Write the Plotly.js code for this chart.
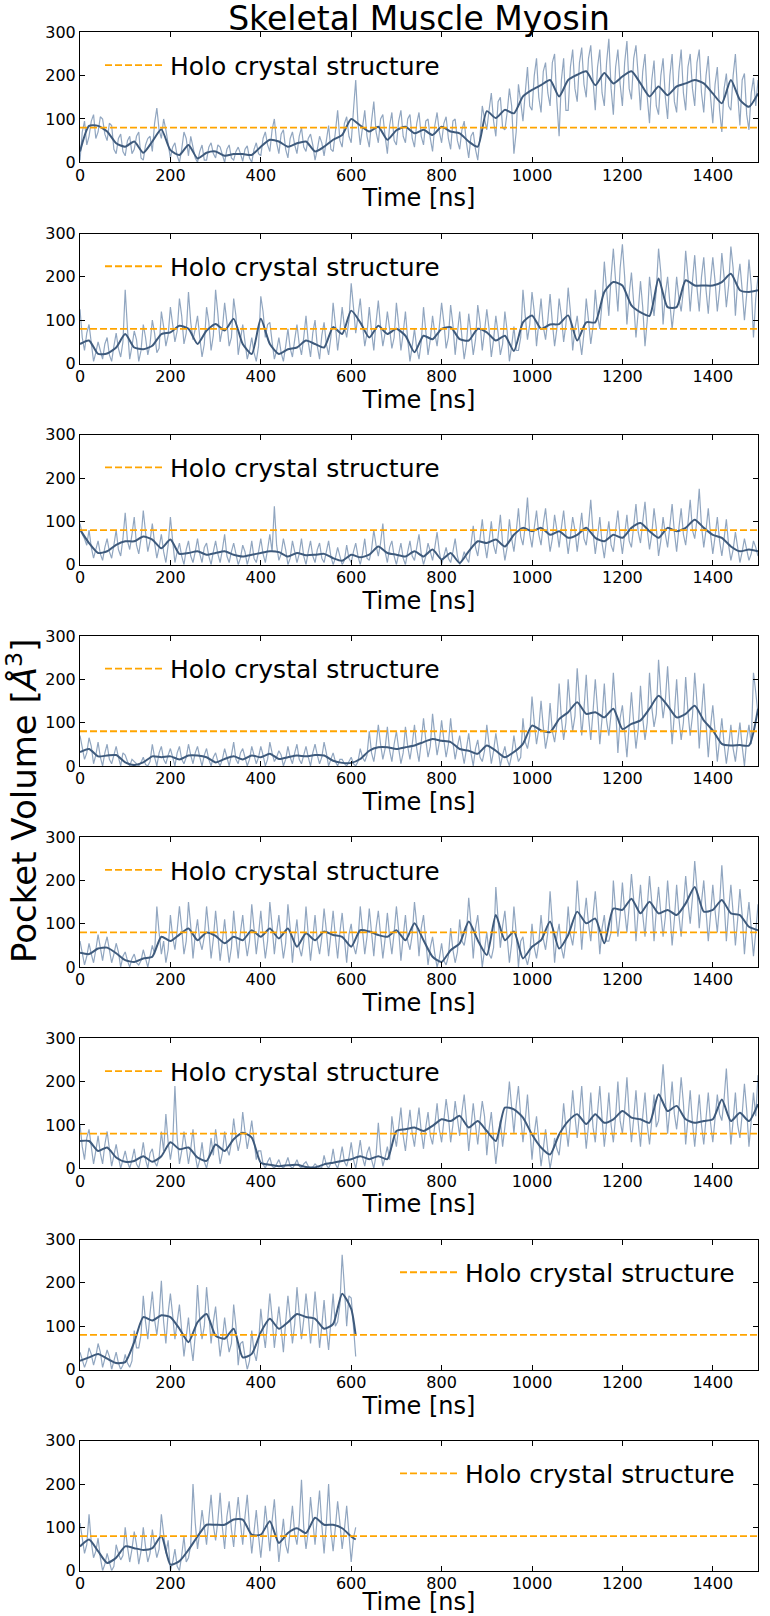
<!DOCTYPE html>
<html>
<head>
<meta charset="utf-8">
<script src="https://cdn.plot.ly/plotly-3.0.1.min.js"></script>
<style>
  body { margin: 0; background: #fff; }
  #chart { width: 770px; height: 1616px; }
</style>
</head>
<body>
<div id="chart"></div>
<script>
// pocket volume (Å^3)
// raw samples at t = 0,10,20,... and the in-between samples at t = 5,15,25,...
// running mean every 20 ns
var raw1 = [
  5, 95, 60, 110, 70, 100, 50, 85, 20, 65,
  15, 60, 30, 70, 5, 55, 25, 125, 55, 75,
  10, 45, 0, 70, 15, 35, 0, 40, 5, 45,
  10, 35, 0, 40, 5, 35, 2, 38, 0, 45,
  15, 70, 25, 100, 20, 75, 10, 70, 20, 80,
  25, 65, 5, 60, 15, 85, 25, 120, 35, 105,
  45, 190, 40, 120, 35, 140, 45, 110, 20, 115,
  40, 120, 45, 110, 35, 115, 40, 100, 25, 115,
  45, 105, 30, 100, 30, 95, 10, 70, 5, 130,
  75, 160, 60, 150, 75, 170, 20, 180, 95, 220,
  120, 240, 115, 230, 130, 250, 60, 240, 120, 260,
  140, 265, 150, 270, 120, 260, 130, 285, 110, 260,
  130, 280, 145, 270, 120, 250, 90, 235, 110, 240,
  100, 250, 115, 260, 120, 250, 130, 260, 115, 245,
  90, 220, 70, 205, 120, 250, 85, 205, 75, 195,
  190
];
var rawMid1 = [
  70, 40, 95, 55, 105, 65, 90, 30, 55, 25,
  50, 20, 60, 10, 40, 60, 90, 75, 100, 45,
  35, 15, 30, 55, 60, 10, 25, 5, 35, 20,
  40, 15, 30, 10, 25, 20, 30, 10, 30, 20,
  55, 40, 75, 45, 65, 30, 55, 40, 60, 35,
  55, 40, 30, 45, 50, 30, 70, 50, 90, 60,
  120, 90, 80, 60, 95, 70, 100, 60, 85, 50,
  95, 60, 100, 55, 90, 60, 95, 55, 85, 70,
  90, 55, 95, 50, 75, 45, 60, 30, 60, 100,
  120, 95, 140, 80, 115, 130, 70, 140, 160, 130,
  200, 150, 210, 160, 230, 140, 190, 120, 220, 170,
  230, 180, 240, 190, 220, 160, 230, 170, 220, 180,
  230, 170, 240, 200, 210, 150, 190, 130, 200, 150,
  200, 140, 210, 160, 220, 170, 230, 160, 200, 150,
  180, 120, 170, 130, 200, 160, 190, 110, 160, 130
];
var smooth1 = [
  25, 84, 84, 71, 44, 36, 48, 22, 48, 76,
  28, 17, 40, 9, 22, 25, 15, 19, 19, 17,
  36, 52, 48, 36, 44, 48, 25, 36, 52, 63,
  100, 85, 71, 82, 52, 74, 82, 67, 75, 63,
  82, 71, 67, 48, 36, 118, 102, 121, 113, 152,
  167, 178, 190, 152, 190, 202, 210, 178, 206, 182,
  198, 210, 182, 152, 175, 155, 175, 182, 190, 182,
  159, 136, 190, 144, 128,
  159
];

var raw2 = [
  125, 30, 90, 5, 50, 10, 60, 5, 70, 15,
  170, 10, 75, 5, 90, 20, 100, 25, 120, 40,
  130, 50, 150, 45, 165, 55, 110, 15, 130, 30,
  170, 50, 140, 40, 150, 20, 90, 10, 60, 5,
  155, 60, 95, 10, 60, 5, 80, 15, 90, 20,
  110, 15, 100, 10, 95, 20, 140, 30, 130, 60,
  185, 70, 150, 40, 130, 30, 145, 40, 120, 35,
  140, 30, 120, 5, 80, 10, 130, 20, 110, 40,
  140, 35, 135, 20, 120, 10, 115, 20, 135, 30,
  125, 15, 110, 20, 120, 5, 85, 30, 170, 55,
  165, 40, 150, 55, 160, 40, 150, 50, 175, 30,
  110, 20, 150, 45, 170, 80, 235, 110, 265, 120,
  275, 90, 210, 60, 190, 40, 200, 110, 265, 90,
  200, 80, 200, 120, 260, 120, 250, 120, 245, 115,
  245, 120, 255, 130, 270, 110, 230, 100, 240, 60,
  200
];
var rawMid2 = [
  60, 70, 40, 25, 30, 45, 20, 40, 35, 50,
  80, 40, 55, 30, 60, 45, 70, 35, 85, 65,
  90, 75, 110, 70, 95, 80, 60, 45, 95, 65,
  115, 80, 95, 60, 110, 55, 50, 30, 25, 40,
  120, 90, 50, 30, 25, 40, 35, 55, 45, 60,
  50, 70, 40, 65, 45, 60, 90, 75, 85, 100,
  130, 110, 90, 70, 75, 95, 85, 70, 80, 60,
  90, 70, 55, 40, 35, 50, 75, 55, 70, 85,
  95, 60, 90, 70, 60, 45, 70, 55, 95, 75,
  80, 55, 70, 45, 75, 40, 30, 60, 110, 90,
  120, 95, 85, 100, 95, 80, 110, 90, 120, 80,
  60, 70, 100, 85, 110, 140, 170, 200, 190, 220,
  200, 160, 140, 120, 130, 100, 150, 170, 210, 160,
  140, 130, 150, 170, 200, 190, 175, 200, 170, 190,
  190, 170, 200, 180, 220, 190, 170, 160, 180, 150
];
var smooth2 = [
  45, 53, 22, 23, 37, 68, 37, 33, 41, 68,
  72, 87, 80, 45, 76, 91, 76, 103, 45, 22,
  103, 45, 22, 33, 37, 53, 45, 37, 84, 68,
  122, 95, 60, 87, 68, 80, 64, 26, 64, 56,
  80, 84, 56, 53, 80, 72, 53, 64, 29, 95,
  111, 80, 90, 91, 111, 53, 95, 95, 165, 188,
  180, 134, 118, 110, 196, 130, 130, 192, 180, 180,
  180, 188, 207, 169, 165,
  169
];

var raw3 = [
  95, 60, 80, 15, 55, 10, 60, 15, 80, 20,
  120, 35, 110, 25, 125, 30, 95, 15, 70, 5,
  110, 5, 50, 0, 55, 5, 60, 5, 50, 0,
  55, 5, 70, 5, 50, 0, 45, 0, 55, 5,
  60, 5, 70, 135, 10, 60, 0, 55, 5, 60,
  0, 55, 5, 50, 5, 55, 0, 40, 0, 45,
  5, 50, 0, 60, 10, 80, 20, 95, 5, 55,
  0, 50, 0, 55, 10, 70, 0, 50, 10, 75,
  0, 40, 5, 60, 0, 30, 5, 90, 20, 105,
  15, 100, 25, 115, 10, 105, 30, 130, 45, 155,
  40, 125, 45, 130, 30, 115, 40, 125, 25, 110,
  30, 120, 45, 150, 25, 110, 15, 100, 30, 125,
  25, 115, 40, 140, 50, 145, 35, 130, 20, 110,
  40, 140, 30, 130, 45, 150, 60, 175, 40, 130,
  25, 110, 20, 105, 10, 75, 5, 60, 10, 55,
  20
];
var rawMid3 = [
  70, 45, 40, 35, 25, 40, 30, 45, 35, 60,
  55, 70, 45, 60, 75, 55, 50, 40, 30, 45,
  55, 30, 20, 35, 20, 30, 25, 40, 20, 30,
  25, 35, 20, 30, 25, 15, 30, 20, 15, 30,
  25, 35, 30, 45, 25, 35, 15, 30, 25, 20,
  30, 20, 35, 15, 30, 20, 15, 20, 10, 15,
  30, 20, 25, 15, 35, 45, 50, 30, 40, 20,
  25, 15, 30, 20, 40, 25, 20, 30, 40, 30,
  20, 15, 30, 20, 10, 15, 45, 40, 60, 50,
  55, 45, 65, 50, 40, 60, 75, 65, 90, 70,
  85, 70, 95, 75, 60, 80, 85, 70, 65, 80,
  75, 60, 90, 75, 65, 50, 60, 45, 80, 65,
  70, 55, 90, 75, 100, 80, 70, 85, 55, 70,
  90, 75, 85, 70, 95, 80, 105, 90, 80, 70,
  65, 55, 60, 45, 35, 40, 30, 35, 25, 40
];
var smooth3 = [
  81, 50, 27, 31, 46, 54, 54, 65, 58, 38,
  58, 25, 27, 31, 23, 27, 31, 23, 19, 23,
  27, 31, 29, 19, 27, 22, 23, 25, 15, 9,
  23, 17, 23, 42, 27, 23, 19, 31, 19, 35,
  12, 27, 4, 31, 54, 50, 58, 42, 69, 85,
  77, 85, 69, 77, 62, 69, 85, 62, 54, 69,
  62, 85, 96, 77, 62, 85, 77, 85, 104, 85,
  69, 62, 42, 31, 35,
  31
];

var raw4 = [
  70, 15, 65, 5, 55, 0, 50, 5, 45, 0,
  25, 0, 10, 0, 20, 0, 50, 0, 45, 5,
  40, 0, 45, 5, 50, 5, 45, 0, 40, 0,
  30, 0, 40, 0, 55, 5, 40, 0, 45, 5,
  45, 0, 55, 10, 35, 0, 45, 5, 50, 5,
  45, 0, 50, 5, 55, 0, 30, 0, 15, 0,
  20, 0, 40, 10, 80, 10, 95, 15, 90, 10,
  80, 5, 90, 15, 95, 10, 110, 20, 120, 25,
  105, 20, 110, 15, 70, 5, 75, 0, 60, 10,
  95, 5, 75, 0, 45, 0, 70, 10, 110, 40,
  160, 50, 150, 40, 145, 55, 190, 60, 200, 80,
  225, 70, 210, 60, 200, 50, 190, 70, 215, 30,
  140, 20, 170, 40, 185, 60, 215, 90, 245, 110,
  230, 50, 200, 60, 205, 70, 215, 40, 190, 20,
  140, 10, 110, 5, 95, 10, 100, 0, 95, 215,
  120
];
var rawMid4 = [
  40, 30, 45, 25, 20, 30, 15, 25, 20, 30,
  10, 15, 5, 8, 3, 10, 20, 30, 15, 25,
  20, 30, 15, 20, 25, 30, 20, 25, 15, 20,
  10, 15, 20, 25, 15, 30, 20, 15, 25, 20,
  25, 15, 30, 20, 25, 15, 20, 30, 15, 25,
  20, 30, 25, 20, 30, 15, 10, 15, 5, 10,
  5, 10, 20, 25, 30, 45, 50, 40, 35, 50,
  40, 30, 45, 50, 40, 55, 60, 45, 70, 55,
  60, 50, 55, 45, 35, 40, 30, 40, 20, 35,
  50, 35, 40, 25, 15, 25, 35, 20, 55, 70,
  100, 85, 90, 70, 80, 95, 110, 100, 130, 115,
  150, 130, 115, 125, 130, 110, 105, 120, 135, 110,
  80, 95, 100, 85, 110, 100, 135, 120, 165, 150,
  140, 120, 110, 100, 125, 115, 145, 120, 100, 90,
  80, 60, 50, 45, 40, 55, 45, 60, 50, 170
];
var smooth4 = [
  32, 39, 22, 24, 25, 8, 2, 8, 22, 20,
  22, 15, 24, 24, 20, 8, 16, 22, 15, 24,
  20, 28, 16, 20, 24, 22, 25, 24, 12, 7,
  7, 16, 35, 43, 43, 39, 43, 47, 55, 62,
  58, 55, 39, 35, 28, 47, 35, 20, 32, 51,
  93, 82, 78, 108, 124, 147, 120, 124, 112, 132,
  85, 97, 105, 132, 162, 139, 112, 120, 139, 105,
  82, 51, 47, 48, 47,
  132
];

var raw5 = [
  60, 5, 55, 10, 75, 15, 70, 10, 55, 0,
  35, 0, 30, 5, 40, 0, 50, 140, 30, 10,
  120, 40, 140, 30, 150, 20, 110, 40, 140, 20,
  130, 15, 110, 10, 130, 20, 120, 25, 145, 30,
  130, 20, 150, 30, 120, 20, 145, 10, 110, 25,
  140, 15, 120, 30, 135, 25, 130, 20, 125, 10,
  100, 30, 140, 30, 135, 25, 130, 20, 125, 30,
  140, 15, 120, 40, 150, 25, 120, 5, 70, 0,
  55, 5, 90, 10, 110, 50, 160, 20, 120, 0,
  80, 20, 185, 45, 130, 10, 140, 0, 70, 5,
  100, 20, 120, 40, 175, 10, 100, 20, 140, 50,
  200, 40, 160, 60, 175, 30, 120, 60, 200, 70,
  195, 80, 215, 60, 190, 70, 210, 60, 185, 70,
  200, 50, 190, 70, 210, 100, 245, 90, 200, 60,
  190, 80, 235, 60, 190, 50, 180, 30, 150, 25,
  145
];
var rawMid5 = [
  35, 25, 30, 40, 45, 50, 40, 30, 35, 25,
  15, 20, 10, 15, 20, 25, 30, 80, 60, 40,
  70, 85, 90, 60, 95, 75, 60, 70, 85, 65,
  75, 60, 55, 45, 70, 80, 65, 60, 90, 75,
  70, 60, 95, 80, 65, 55, 90, 70, 45, 60,
  75, 65, 60, 70, 85, 75, 70, 80, 65, 75,
  50, 60, 85, 70, 80, 90, 75, 65, 70, 80,
  85, 70, 60, 75, 100, 90, 60, 45, 30, 20,
  15, 25, 40, 35, 60, 80, 100, 90, 60, 40,
  30, 45, 110, 95, 70, 55, 80, 60, 25, 30,
  45, 55, 65, 80, 100, 70, 45, 60, 75, 95,
  130, 110, 100, 120, 110, 90, 60, 80, 130, 120,
  130, 140, 155, 130, 120, 140, 150, 130, 125, 115,
  130, 110, 120, 140, 150, 160, 180, 150, 130, 120,
  130, 145, 150, 130, 125, 110, 120, 100, 90, 80
];
var smooth5 = [
  33, 30, 43, 45, 32, 16, 12, 20, 24, 70,
  60, 75, 89, 62, 80, 72, 55, 70, 62, 85,
  70, 89, 66, 89, 47, 78, 62, 82, 74, 70,
  47, 85, 82, 74, 70, 85, 62, 101, 62, 24,
  12, 39, 55, 105, 62, 28, 120, 62, 82, 20,
  47, 62, 105, 43, 74, 128, 101, 112, 55, 135,
  132, 158, 124, 151, 124, 132, 120, 147, 185, 128,
  132, 155, 124, 120, 93,
  85
];

var raw6 = [
  100, 20, 90, 10, 75, 10, 85, 5, 55, 0,
  40, 0, 45, 0, 60, 0, 45, 5, 85, 125,
  20, 190, 10, 85, 10, 90, 0, 60, 0, 70,
  90, 10, 85, 30, 115, 40, 130, 45, 110, 20,
  40, 0, 25, 0, 20, 0, 25, 0, 20, 0,
  15, 0, 10, 0, 30, 0, 45, 0, 50, 5,
  60, 0, 65, 5, 50, 0, 105, 5, 50, 120,
  50, 140, 40, 135, 50, 140, 45, 130, 55, 150,
  60, 160, 60, 155, 75, 170, 40, 150, 55, 155,
  30, 130, 10, 110, 90, 200, 80, 190, 60, 170,
  20, 120, 5, 90, 0, 70, 30, 150, 50, 180,
  70, 190, 45, 175, 60, 190, 50, 175, 60, 200,
  80, 210, 60, 180, 50, 175, 55, 170, 110, 240,
  80, 200, 90, 210, 55, 180, 50, 170, 55, 175,
  60, 170, 110, 230, 55, 175, 70, 195, 50, 175,
  215
];
var rawMid6 = [
  50, 70, 55, 40, 35, 55, 45, 30, 25, 20,
  15, 20, 10, 25, 20, 35, 15, 25, 40, 60,
  55, 70, 40, 50, 45, 30, 20, 15, 25, 30,
  50, 35, 45, 60, 70, 65, 85, 75, 65, 40,
  10, 15, 5, 10, 5, 10, 5, 8, 5, 10,
  5, 3, 5, 2, 8, 12, 10, 20, 15, 25,
  20, 30, 25, 35, 20, 30, 40, 25, 20, 80,
  95, 75, 90, 80, 100, 85, 95, 75, 100, 90,
  110, 120, 100, 115, 130, 110, 95, 100, 110, 120,
  90, 70, 60, 50, 140, 130, 145, 120, 110, 95,
  80, 65, 45, 40, 30, 45, 80, 95, 110, 120,
  125, 110, 100, 95, 130, 115, 105, 100, 120, 110,
  135, 125, 115, 105, 120, 100, 110, 95, 170, 160,
  135, 125, 140, 150, 115, 105, 110, 100, 115, 105,
  115, 125, 160, 140, 110, 100, 125, 135, 110, 120
];
var smooth6 = [
  63, 63, 40, 48, 25, 15, 17, 28, 15, 28,
  60, 44, 48, 25, 17, 55, 40, 67, 82, 71,
  13, 8, 5, 7, 8, 3, 2, 9, 13, 17,
  21, 28, 21, 28, 21, 86, 90, 94, 86, 98,
  113, 109, 121, 94, 109, 86, 63, 140, 136, 117,
  78, 48, 32, 78, 109, 125, 102, 125, 105, 113,
  132, 117, 113, 105, 171, 132, 144, 113, 105, 109,
  113, 159, 109, 128, 109,
  148
];

// the last two runs stop at 610 ns
var raw7 = [
  40, 5, 50, 10, 60, 5, 45, 0, 40, 0,
  35, 5, 90, 50, 170, 70, 180, 80, 205, 60,
  175, 70, 150, 30, 120, 20, 195, 70, 190, 60,
  145, 30, 120, 40, 150, 10, 65, 0, 90, 20,
  140, 50, 175, 50, 145, 40, 170, 60, 190, 70,
  175, 60, 180, 50, 160, 45, 175, 110, 265, 100,
  165, 30
];
var rawMid7 = [
  25, 20, 35, 30, 40, 25, 30, 20, 15, 10,
  15, 20, 50, 80, 110, 130, 115, 125, 110, 130,
  125, 110, 90, 75, 60, 80, 115, 100, 130, 110,
  85, 70, 75, 60, 100, 60, 30, 20, 40, 60,
  90, 110, 120, 100, 95, 110, 120, 105, 130, 115,
  125, 110, 120, 100, 95, 110, 100, 150, 190, 170,
  100
];
var smooth7 = [
  20, 28, 36, 25, 15, 17, 63, 121, 113, 125,
  121, 94, 63, 109, 128, 78, 71, 94, 28, 36,
  86, 117, 94, 109, 128, 121, 117, 94, 105, 175,
  140, 78
];

var raw8 = [
  110, 40, 130, 30, 75, 0, 40, 0, 60, 25,
  100, 20, 90, 15, 100, 20, 95, 30, 130, 40,
  0, 50, 0, 80, 30, 200, 50, 140, 60, 175,
  70, 180, 50, 160, 55, 170, 60, 175, 40, 140,
  30, 150, 45, 165, 20, 120, 40, 150, 60, 210,
  50, 170, 60, 185, 40, 200, 45, 160, 50, 150,
  20, 100
];
var rawMid8 = [
  75, 60, 65, 45, 30, 15, 20, 10, 40, 35,
  55, 50, 60, 45, 55, 40, 60, 50, 85, 70,
  20, 10, 35, 20, 60, 110, 90, 100, 120, 105,
  115, 100, 125, 95, 120, 110, 125, 100, 90, 80,
  85, 100, 115, 90, 70, 60, 95, 85, 110, 100,
  90, 115, 125, 105, 110, 95, 100, 110, 95, 85,
  75
];
var smooth8 = [
  56, 72, 45, 18, 30, 56, 52, 48, 52, 80,
  14, 22, 48, 79, 106, 106, 106, 118, 118, 83,
  83, 114, 64, 87, 98, 87, 122, 106, 106, 98,
  79, 72
];

var holoVolume = 80;
var holoLabel = 'Holo crystal structure';
var timeLimits = [0, 1500];

function steps(start, stop, step) {
    var out = [];
    for (var t = start; t <= stop; t += step) out.push(t);
    return out;
}

// put the 5 ns samples back between the 10 ns ones
function interleave(a, b) {
    var out = [];
    for (var i = 0; i < a.length; i++) {
        out.push(a[i]);
        if (i < b.length) out.push(b[i]);
    }
    return out;
}

var rawTime = steps(0, 1500, 5);
var smoothTime = steps(0, 1500, 20);
var rawTimeShort = steps(0, 610, 5);
var smoothTimeShort = steps(0, 600, 20).concat([610]);

var panels = [
    { raw: interleave(raw1, rawMid1), smooth: smooth1, rt: rawTime, st: smoothTime, legLeft: 100 },
    { raw: interleave(raw2, rawMid2), smooth: smooth2, rt: rawTime, st: smoothTime, legLeft: 100 },
    { raw: interleave(raw3, rawMid3), smooth: smooth3, rt: rawTime, st: smoothTime, legLeft: 100 },
    { raw: interleave(raw4, rawMid4), smooth: smooth4, rt: rawTime, st: smoothTime, legLeft: 100 },
    { raw: interleave(raw5, rawMid5), smooth: smooth5, rt: rawTime, st: smoothTime, legLeft: 100 },
    { raw: interleave(raw6, rawMid6), smooth: smooth6, rt: rawTime, st: smoothTime, legLeft: 100 },
    { raw: interleave(raw7, rawMid7), smooth: smooth7, rt: rawTimeShort, st: smoothTimeShort, legLeft: 395 },
    { raw: interleave(raw8, rawMid8), smooth: smooth8, rt: rawTimeShort, st: smoothTimeShort, legLeft: 395 }
];

var W = 770, H = 1616;
var plotLeft = 80, plotRight = 758;
var firstTop = 32.3, panelStep = 201.2, panelH = 130;
var font = 'DejaVu Sans, sans-serif';

var traces = [];
var layout = {
    width: W,
    height: H,
    margin: { l: 0, r: 0, t: 0, b: 0 },
    paper_bgcolor: '#fff',
    plot_bgcolor: '#fff',
    font: { family: font, color: '#000' },
    title: {
        text: 'Skeletal Muscle Myosin',
        font: { size: 33, color: '#000' },
        x: 419 / W,
        xanchor: 'center',
        y: 1 - 18 / H,
        yanchor: 'middle'
    },
    annotations: [{
        text: 'Pocket Volume [<i>Å</i><sup>3</sup>]',
        textangle: -90,
        xref: 'paper', yref: 'paper',
        x: 22 / W, y: 1 - 801 / H,
        xanchor: 'center', yanchor: 'middle',
        showarrow: false,
        font: { size: 34, color: '#000' }
    }],
    showlegend: true
};

panels.forEach(function (p, k) {
    var n = k === 0 ? '' : String(k + 1);
    var top = firstTop + k * panelStep;
    var bottom = top + panelH;
    var legName = 'legend' + n;

    traces.push({
        x: p.rt, y: p.raw,
        xaxis: 'x' + n, yaxis: 'y' + n,
        mode: 'lines',
        line: { color: 'rgba(118,144,176,0.8)', width: 1.2 },
        showlegend: false,
        hoverinfo: 'skip'
    });
    traces.push({
        x: p.st, y: p.smooth,
        xaxis: 'x' + n, yaxis: 'y' + n,
        mode: 'lines',
        line: { color: '#3e5a7c', width: 2, shape: 'spline', smoothing: 0.6 },
        showlegend: false
    });
    traces.push({
        x: timeLimits, y: [holoVolume, holoVolume],
        xaxis: 'x' + n, yaxis: 'y' + n,
        mode: 'lines',
        name: holoLabel,
        legend: legName,
        line: { color: '#FFA500', width: 1.8, dash: '7px,3px' }
    });

    layout['xaxis' + n] = {
        domain: [plotLeft / W, plotRight / W],
        anchor: 'y' + n,
        range: timeLimits,
        tickvals: [0, 200, 400, 600, 800, 1000, 1200, 1400],
        ticks: 'inside', ticklen: 5, tickwidth: 1, tickcolor: '#000',
        showline: true, linecolor: '#000', linewidth: 1, mirror: 'ticks',
        showgrid: false, zeroline: false,
        tickfont: { size: 16, color: '#000' },
        ticklabelstandoff: -2,
        title: { text: 'Time [ns]', font: { size: 24, color: '#000' }, standoff: 0 },
        automargin: false
    };
    layout['yaxis' + n] = {
        domain: [1 - bottom / H, 1 - top / H],
        anchor: 'x' + n,
        range: [0, 300],
        tickvals: [0, 100, 200, 300],
        ticks: 'inside', ticklen: 5, tickwidth: 1, tickcolor: '#000',
        showline: true, linecolor: '#000', linewidth: 1, mirror: 'ticks',
        showgrid: false, zeroline: false,
        tickfont: { size: 16, color: '#000' },
        automargin: false
    };
    layout[legName] = {
        x: p.legLeft / W,
        xanchor: 'left',
        y: 1 - (top + 33) / H,
        yanchor: 'middle',
        bgcolor: 'rgba(0,0,0,0)',
        borderwidth: 0,
        itemwidth: 60,
        font: { size: 25, color: '#000' }
    };
});

Plotly.newPlot('chart', traces, layout, { displayModeBar: false, staticPlot: true });
</script>
</body>
</html>
